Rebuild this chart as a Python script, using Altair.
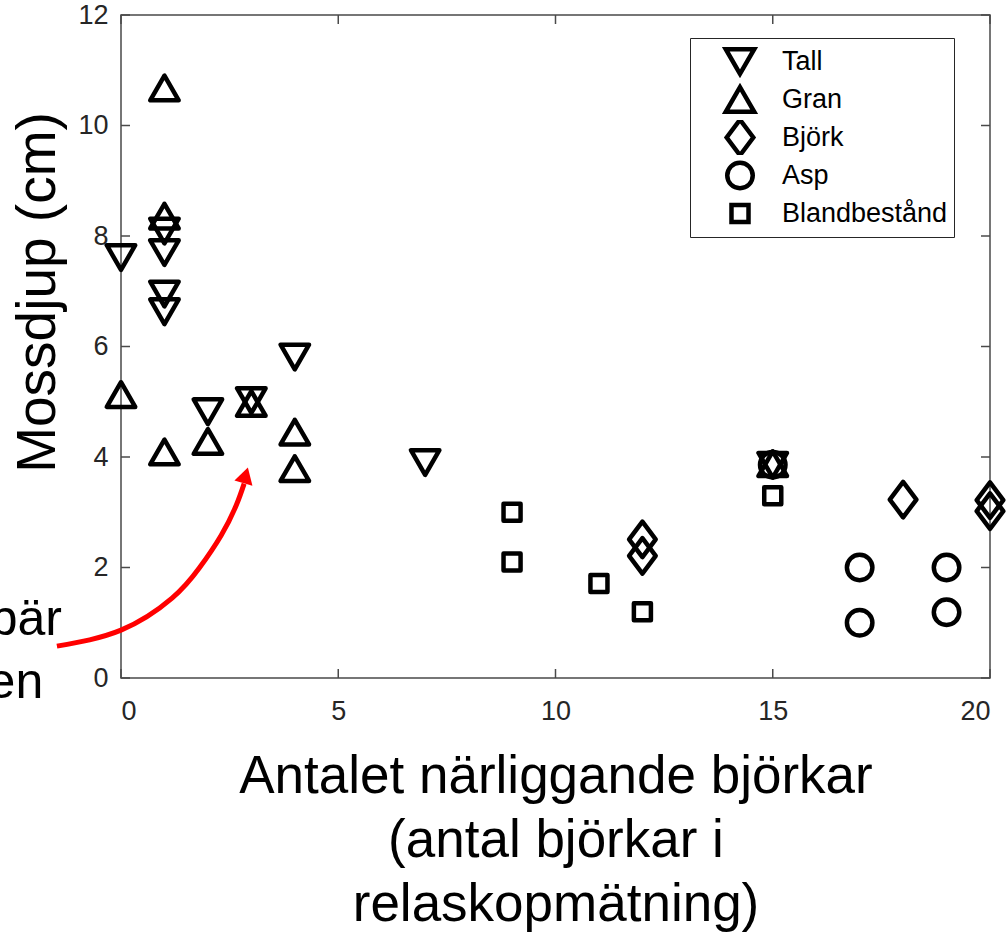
import altair as alt
import pandas as pd

# ---------------- data ----------------
species = ["Tall", "Gran", "Björk", "Asp", "Blandbestånd"]
shapes = ["triangle-down", "triangle-up", "M0,-1L0.75,0L0,1L-0.75,0Z", "circle", "square"]
sizes = [810, 810, 1260, 650, 290]

tall_x = [0, 1, 1, 1, 1, 2, 3, 4, 7, 15]
tall_y = [7.61, 8.09, 7.70, 6.95, 6.63, 4.82, 5.02, 5.81, 3.90, 3.85]
gran_x = [0, 1, 1, 1, 2, 3, 4, 4, 15]
gran_y = [5.13, 10.68, 8.36, 4.09, 4.28, 4.97, 4.45, 3.79, 3.88]
bjork_x = [12, 12, 18, 20, 20]
bjork_y = [2.51, 2.21, 3.23, 3.22, 3.02]
asp_x = [15, 17, 17, 19, 19]
asp_y = [3.86, 2.0, 1.0, 2.0, 1.19]
bland_x = [9, 9, 11, 12, 15]
bland_y = [3.0, 2.10, 1.71, 1.20, 3.30]

x_ticks = [0, 5, 10, 15, 20]
y_ticks = [0, 2, 4, 6, 8, 10, 12]

x_title = ["Antalet närliggande björkar", "(antal björkar i", "relaskopmätning)"]
y_title = "Mossdjup (cm)"

# red annotation arrow (data coordinates)
arrow_x = [-1.475, 0.0, 1.175, 1.797, 2.304, 2.650, 2.834]
arrow_y = [0.577, 0.866, 1.444, 1.985, 2.580, 3.121, 3.518]
head_x = [2.869]
head_y = [3.667]

# partially visible annotation text on the left
note_text = ["bär", "en"]
note_x = [-1.36, -1.79]
note_y = [0.77, -0.37]

# ---------------- build tables ----------------
rows = []
for name, xs, ys in [("Tall", tall_x, tall_y), ("Gran", gran_x, gran_y),
                     ("Björk", bjork_x, bjork_y), ("Asp", asp_x, asp_y),
                     ("Blandbestånd", bland_x, bland_y)]:
    for xv, yv in zip(xs, ys):
        rows.append({"x": xv, "y": yv, "art": name})
pts = pd.DataFrame(rows)

W, H = 869, 663
AX = "#4a4a4a"
FONT = "Liberation Sans"

xscale = alt.Scale(domain=[0, 20], nice=False, zero=False)
yscale = alt.Scale(domain=[0, 12], nice=False, zero=False)

legend = alt.Legend(title=None, orient="none", legendX=569, legendY=23,
                    strokeColor="#262626", fillColor="white", padding=6,
                    symbolOffset=24, labelOffset=22, labelFontSize=27,
                    labelFont=FONT, labelColor="black", clipHeight=35,
                    rowPadding=3, symbolStrokeWidth=4.5,
                    symbolStrokeColor="black", symbolFillColor="transparent",
                    labelLimit=400)

points = alt.Chart(pts).mark_point(
    filled=False, color="black", strokeWidth=4.5, opacity=1, strokeJoin="round"
).encode(
    x=alt.X("x:Q", scale=xscale,
            axis=alt.Axis(values=x_ticks, format="d", domain=False, ticks=False, tickSize=0,
                          grid=False, labelFontSize=27, labelColor="#262626",
                          labelFont=FONT, labelPadding=20, title=x_title,
                          titleFontSize=53, titleFont=FONT, titleColor="black",
                          titleFontWeight="normal", titleLineHeight=64,
                          titlePadding=26)),
    y=alt.Y("y:Q", scale=yscale,
            axis=alt.Axis(values=y_ticks, format="d", domain=False, ticks=False, tickSize=0,
                          grid=False, labelFontSize=27, labelColor="#262626",
                          labelFont=FONT, labelPadding=13, title=y_title,
                          titleFontSize=55, titleFont=FONT, titleColor="black",
                          titleFontWeight="normal", titleAngle=270,
                          titleX=-67, titleY=277, titleAlign="center",
                          titleBaseline="alphabetic")),
    shape=alt.Shape("art:N", scale=alt.Scale(domain=species, range=shapes), legend=legend),
    size=alt.Size("art:N", scale=alt.Scale(type="ordinal", domain=species, range=sizes), legend=legend),
)

# inward ticks on all four sides
xt = pd.DataFrame({"v": x_ticks})
yt = pd.DataFrame({"v": y_ticks})
tick_style = dict(color=AX, strokeWidth=1.5)
t_bottom = alt.Chart(xt).mark_rule(**tick_style).encode(
    x=alt.X("v:Q", scale=xscale), y=alt.value(H), y2=alt.value(H - 9))
t_top = alt.Chart(xt).mark_rule(**tick_style).encode(
    x=alt.X("v:Q", scale=xscale), y=alt.value(0), y2=alt.value(9))
t_left = alt.Chart(yt).mark_rule(**tick_style).encode(
    y=alt.Y("v:Q", scale=yscale), x=alt.value(0), x2=alt.value(9))
t_right = alt.Chart(yt).mark_rule(**tick_style).encode(
    y=alt.Y("v:Q", scale=yscale), x=alt.value(W - 9), x2=alt.value(W))

arrow_df = pd.DataFrame({"x": arrow_x, "y": arrow_y, "o": list(range(len(arrow_x)))})
arrow = alt.Chart(arrow_df).mark_line(
    color="#ff0000", strokeWidth=5, interpolate="natural", clip=False
).encode(x=alt.X("x:Q", scale=xscale), y=alt.Y("y:Q", scale=yscale), order="o:Q")

head = alt.Chart(pd.DataFrame({"x": head_x, "y": head_y})).mark_point(
    shape="triangle-up", filled=True, color="#ff0000", size=350, angle=16, opacity=1
).encode(x=alt.X("x:Q", scale=xscale), y=alt.Y("y:Q", scale=yscale))

notes = alt.Chart(pd.DataFrame({"x": note_x, "y": note_y, "t": note_text})).mark_text(
    align="right", baseline="alphabetic", fontSize=50, font=FONT, color="black"
).encode(x=alt.X("x:Q", scale=xscale), y=alt.Y("y:Q", scale=yscale), text="t:N")

chart = alt.layer(
    t_bottom, t_top, t_left, t_right, arrow, head, notes, points
).properties(
    width=W, height=H,
    autosize=alt.AutoSizeParams(type="none"),
    padding={"left": 121, "top": 15, "right": 18, "bottom": 257},
).configure_view(
    stroke=AX, strokeWidth=1.5
)

chart.save("out.html", embed_options={"renderer": "svg", "actions": False})
